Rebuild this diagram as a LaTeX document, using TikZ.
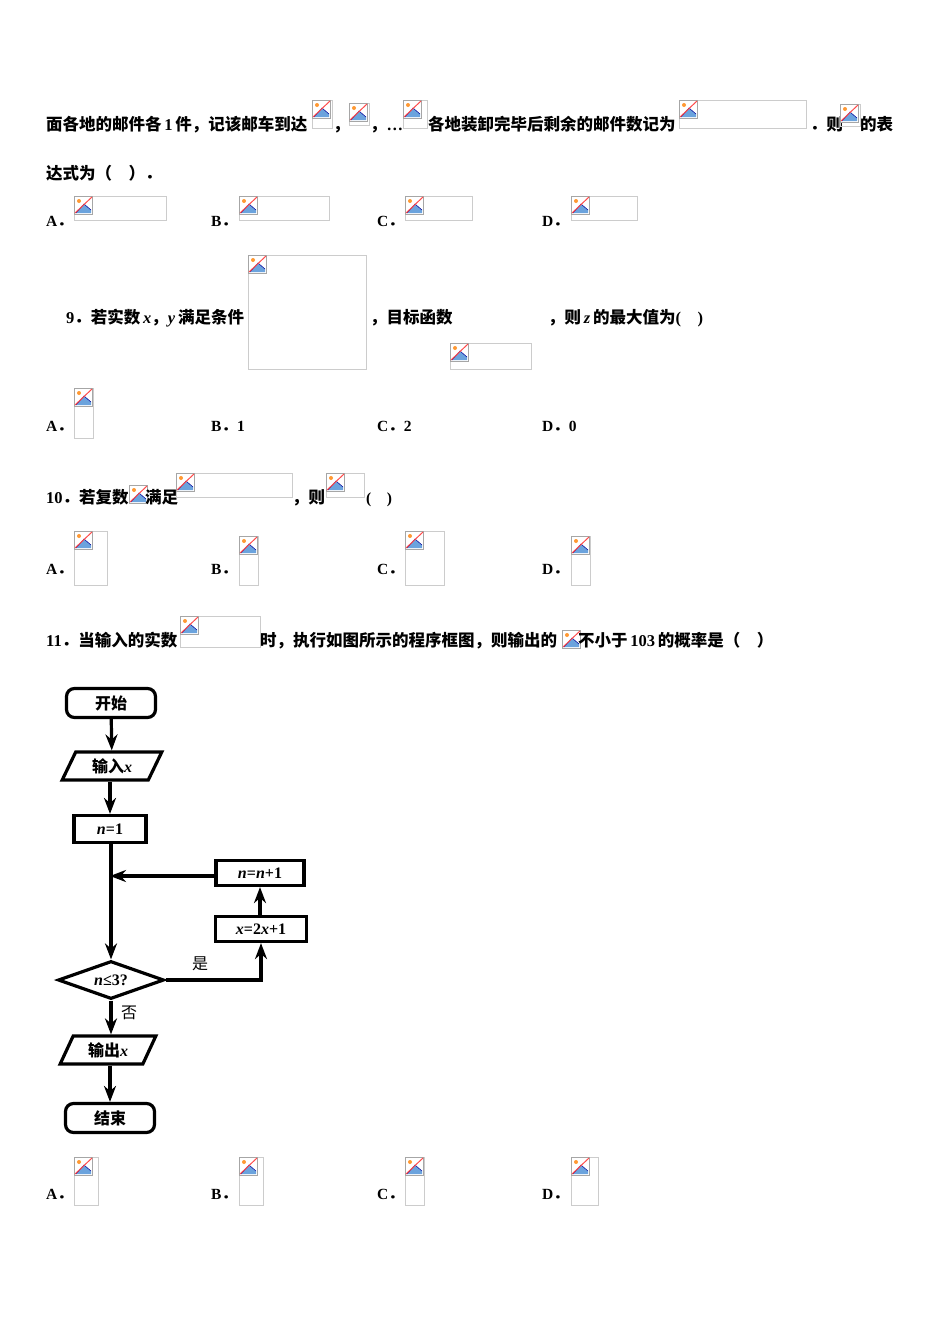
\documentclass[tikz,border=0pt]{standalone}
\usepackage{fontspec}
\setmainfont{Liberation Serif}
\newfontfamily\cjk{Noto Sans CJK SC}
\usetikzlibrary{shapes.geometric,arrows.meta}
\newcommand{\ph}[4]{%
 \draw[black!20,line width=0.8pt] (#1,-#2) rectangle ++(#3,-#4);
 \begin{scope}[shift={(#1,-#2)}]
  \fill[white] (0.5,-0.5) rectangle (18,-18);
  \draw[black!35,line width=0.6pt] (0.5,-0.5) rectangle (18,-18);
  \fill[cyan!60!blue!60] (2,-17) -- (10,-8) -- (17,-14) -- (17,-17) -- cycle;
  \draw[blue!60!black,line width=0.5pt] (2,-17) -- (10,-8) -- (17,-14);
  \fill[orange!80] (5,-5) circle (2);
  \draw[red!70,line width=1pt] (1,-17) -- (18,-1);
 \end{scope}}
\newcommand{\dt}{{\cjk ．}}
\newcommand{\vi}[1]{{\rmfamily\bfseries\itshape #1}}
\newcommand{\ro}[1]{{\rmfamily\bfseries #1}}
\tikzset{
 tx/.style={anchor=base west,inner sep=0pt,font=\fontsize{16.5}{18}\selectfont\bfseries\cjk},
 op/.style={anchor=base west,inner sep=0pt,font=\fontsize{15.5}{17}\selectfont\bfseries},
 fc/.style={draw,line width=3.2pt,minimum height=27pt,inner sep=2pt,font=\fontsize{16}{18}\selectfont\bfseries},
 term/.style={fc,rounded corners=8pt,minimum width=89pt,minimum height=29pt},
 io/.style={fc,trapezium,trapezium left angle=67,trapezium right angle=113,minimum width=100pt,minimum height=28pt,trapezium stretches=true},
 pr/.style={fc,rectangle},
 ar/.style={line width=3.2pt,-{Stealth[length=16pt,width=12pt]}},
 ln/.style={line width=3.2pt}
}
\begin{document}
\begin{tikzpicture}[x=1pt,y=1pt]
\useasboundingbox (0,0) rectangle (950,-1344);
\fill[white] (0,0) rectangle (950,-1344);
% line 1
\node[tx] at (46,-130) {面各地的邮件各\,\ro{1}\,件，记该邮车到达};
\ph{312}{100}{20}{28}
\node[tx] at (333,-130) {，};
\ph{349}{103}{20}{22}
\node[tx] at (370,-130) {，\ro{…}};
\ph{403}{100}{24}{28}
\node[tx] at (428,-130) {各地装卸完毕后剩余的邮件数记为};
\ph{679}{100}{127}{28}
\node[tx] at (810,-130) {．则};
\ph{840}{104}{20}{22}
\node[tx] at (860,-130) {的表};
\node[tx] at (46,-179) {达式为（\quad）．};
% options row 1
\node[op] at (46,-226) {A\dt}; \ph{74}{196}{92}{24}
\node[op] at (211,-226) {B\dt}; \ph{239}{196}{90}{24}
\node[op] at (377,-226) {C\dt}; \ph{405}{196}{67}{24}
\node[op] at (542,-226) {D\dt}; \ph{571}{196}{66}{24}
% Q9
\node[tx] at (66,-323) {\ro{9}．若实数\,\vi{x}，\vi{y}\,满足条件};
\ph{248}{255}{118}{114}
\node[tx] at (370,-323) {，目标函数};
\node[tx] at (548,-323) {，则\,\vi{z}\,的最大值为\ro{(\quad)}};
\ph{450}{343}{81}{26}
\node[op] at (46,-431) {A\dt}; \ph{74}{388}{19}{50}
\node[op] at (211,-431) {B\dt 1};
\node[op] at (377,-431) {C\dt 2};
\node[op] at (542,-431) {D\dt 0};
% Q10
\node[tx] at (46,-503) {\ro{10}．若复数};
\ph{129}{485}{14}{14}
\node[tx] at (145,-503) {满足};
\ph{176}{473}{116}{24}
\node[tx] at (292,-503) {，则};
\ph{326}{473}{38}{24}
\node[op] at (366,-503) {(\quad)};
\node[op] at (46,-574) {A\dt}; \ph{74}{531}{33}{54}
\node[op] at (211,-574) {B\dt}; \ph{239}{536}{19}{49}
\node[op] at (377,-574) {C\dt}; \ph{405}{531}{39}{54}
\node[op] at (542,-574) {D\dt}; \ph{571}{536}{19}{49}
% Q11
\node[tx] at (46,-646) {\ro{11}．当输入的实数};
\ph{180}{616}{80}{31}
\node[tx] at (260,-646) {时，执行如图所示的程序框图，则输出的};
\ph{562}{630}{16}{16}
\node[tx] at (578,-646) {不小于\,\ro{103}\,的概率是（\quad）};
% flowchart
\node[term] (s) at (111,-703) {\cjk 开始};
\node[io] (in) at (112,-766) {\cjk 输入\vi{x}};
\node[pr,minimum width=72pt] (n1) at (110,-829) {\vi{n}=1};
\node[pr,minimum width=88pt,minimum height=25pt] (inc) at (260,-873) {\vi{n}=\vi{n}+1};
\node[pr,minimum width=91pt,minimum height=25pt] (upd) at (261,-929) {\vi{x}=2\vi{x}+1};
\node[fc,diamond,aspect=2.9,inner sep=1pt,minimum width=106pt,minimum height=38pt] (d) at (111,-980) {\vi{n}≤3?};
\node[io,minimum width=96pt] (out) at (108,-1050) {\cjk 输出\vi{x}};
\node[term] (e) at (110,-1118) {\cjk 结束};
\coordinate (j) at (111,-876);
\draw[ar] (s) -- (in);
\draw[ar] (in.south -| n1) -- (n1);
\draw[ln] (n1.south -| j) -- (j);
\draw[ar] (j) -- (d.north);
\draw[ar] (inc.west |- j) -- ([xshift=-1pt]j);
\draw[ar] (d.east) -- (d.east -| upd.south) -- (upd.south);
\draw[ar] (upd.north -| inc) -- (inc.south);
\draw[ar] (d.south) -- (d.south |- out.north);
\draw[ar] (out.south -| e) -- (e);
\node[font=\fontsize{16}{18}\selectfont\cjk] at (200,-964) {是};
\node[font=\fontsize{16}{18}\selectfont\cjk] at (129,-1013) {否};
% options row last
\node[op] at (46,-1199) {A\dt}; \ph{74}{1157}{24}{48}
\node[op] at (211,-1199) {B\dt}; \ph{239}{1157}{24}{48}
\node[op] at (377,-1199) {C\dt}; \ph{405}{1157}{19}{48}
\node[op] at (542,-1199) {D\dt}; \ph{571}{1157}{27}{48}
\end{tikzpicture}
\end{document}
